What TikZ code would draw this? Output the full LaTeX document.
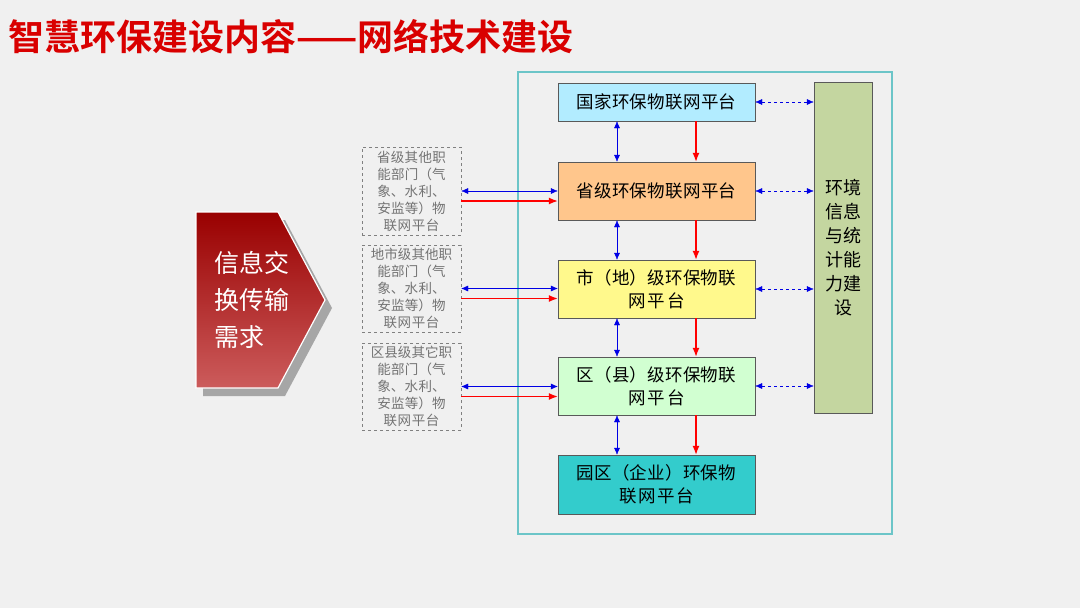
\documentclass[tikz,border=0pt]{standalone}
\usepackage{fontspec}
\setmainfont{Noto Sans CJK SC}
\newfontfamily\cjk{Noto Sans CJK SC}
\newfontfamily\cjkb{Noto Sans CJK SC Bold}
\XeTeXlinebreaklocale "zh"
\XeTeXlinebreakskip=0pt plus 1pt
\usetikzlibrary{arrows.meta}
\definecolor{tealc}{HTML}{33CCCC}
\definecolor{envc}{HTML}{C4D6A0}
\definecolor{framec}{HTML}{6CC5C8}
\begin{document}
\begin{tikzpicture}[x=1pt,y=-1pt,
 plat/.style={draw=gray!70!black,minimum width=197pt,align=center,font=\fontsize{17.5}{23}\selectfont,inner sep=0pt,text width=180pt},
 side/.style={draw=gray,dashed,minimum width=99pt,text width=86pt,align=center,text=gray!90!black,font=\fontsize{13.5}{17}\selectfont,inner sep=0pt},
 barr/.style={blue!90!black,{Latex[length=7pt,width=6pt]}-{Latex[length=7pt,width=6pt]}},
 darr/.style={barr,dashed},
 rarr/.style={red,line width=1.3pt,-{Latex[length=9pt,width=7pt]}}]
\useasboundingbox (0,0) rectangle (1080,608);
\fill[gray!12] (0,0) rectangle (1080,608);
\node[anchor=west,text=red!85!black,font=\cjkb\fontsize{36}{40}\selectfont,inner sep=0] (title) at (8,37) {智慧环保建设内容——网络技术建设};
\draw[framec,line width=1.5pt] (518,72) rectangle (892,534);
\node[draw=gray!70!black,fill=envc,minimum width=58pt,minimum height=331pt,inner sep=0,align=center,font=\fontsize{18}{24}\selectfont] (env) at (843,247.5) {环境\\信息\\与统\\计能\\力建\\设};
\node[plat,fill=blue!25!cyan!30,minimum height=38pt] (p1) at (656.5,102) {国家环保物联网平台};
\node[plat,fill=orange!45,minimum height=58pt] (p2) at (656.5,191) {省级环保物联网平台};
\node[plat,fill=yellow!45,minimum height=58pt] (p3) at (656.5,289) {市（地）级环保物联\\网平台};
\node[plat,fill=green!18,minimum height=58pt] (p4) at (656.5,386) {区（县）级环保物联\\网平台};
\node[plat,fill=tealc,minimum height=59pt] (p5) at (656.5,484.5) {园区（企业）环保物\\联网平台};
\foreach \p in {p1,p2,p3,p4} \draw[darr] (\p.east) -- (\p.east -| env.west);
\foreach \a/\b in {p1/p2,p2/p3,p3/p4,p4/p5}{
 \draw[barr] ([xshift=-39.5pt]\a.south) -- ([xshift=-39.5pt]\b.north);
 \draw[rarr] ([xshift=39.5pt]\a.south) -- ([xshift=39.5pt]\b.north);}
\node[side,minimum height=88pt] (s1) at (411.5,191) {省级其他职能部门（气象、水利、安监等）物联网平台};
\node[side,minimum height=87pt] (s2) at (411.5,288.5) {地市级其他职能部门（气象、水利、安监等）物联网平台};
\node[side,minimum height=87pt] (s3) at (411.5,386.5) {区县级其它职能部门（气象、水利、安监等）物联网平台};
\foreach \s/\p in {s1/p2,s2/p3,s3/p4}{
 \draw[barr] (\s.east) -- (\s.east -| \p.west);
 \draw[rarr] ([yshift=-10pt]\s.east) -- ([yshift=-10pt]\s.east -| \p.west);}
\fill[gray!70] (203,220) -- (285,220) -- (332,308) -- (285,396) -- (203,396) -- cycle;
\shade[top color=red!60!black,bottom color=red!55!white!80!black,draw=white,line width=1.2pt] (196,212) -- (278,212) -- (325,300) -- (278,388) -- (196,388) -- cycle;
\node[text=white,align=left,font=\fontsize{25}{37}\selectfont,inner sep=0] (need) at (252,300) {信息交\\换传输\\需求};
\end{tikzpicture}
\end{document}
